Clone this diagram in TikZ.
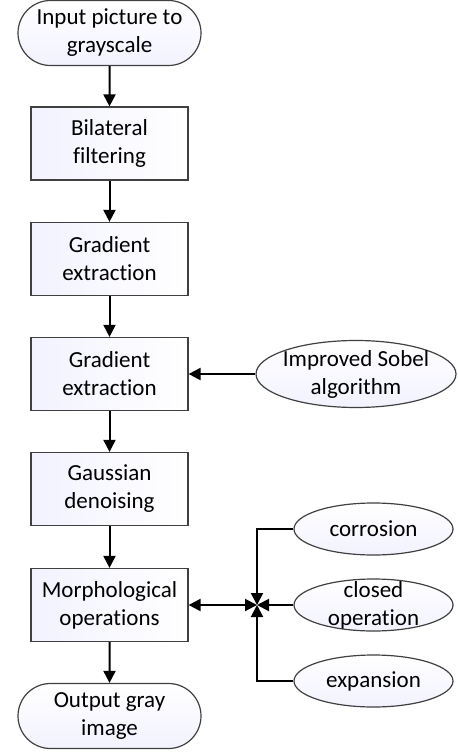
\documentclass[tikz,border=0pt]{standalone}
\usepackage{fontspec}
\setmainfont{Carlito}[Ligatures=NoCommon]
\usetikzlibrary{shapes, arrows.meta, positioning, calc}

\begin{document}
\begin{tikzpicture}[
        x=0.5pt, y=-0.5pt,
        font=\fontsize{11.5}{14}\selectfont,
        term/.style={rounded rectangle, draw=black!75, line width=0.6pt, top color=white, bottom color=blue!5, minimum width=93.5pt, minimum height=32.5pt, align=center, inner sep=1pt},
        proc/.style={rectangle, draw=black!75, line width=0.6pt, left color=blue!5, right color=white, minimum width=78.5pt, minimum height=36.5pt, align=center, inner sep=1pt},
        oval/.style={ellipse, draw=black!75, line width=0.6pt, top color=white, bottom color=blue!5, minimum width=79.5pt, minimum height=26pt, inner sep=0pt},
        ovaltext/.style={align=center, inner sep=0pt},
        flow/.style={-{Triangle[length=6pt, width=6pt]}, line width=1pt},
        both/.style={{Triangle[length=6pt, width=6pt]}-{Triangle[length=6pt, width=6pt]}, line width=1pt}
    ]
        \useasboundingbox (0, 0) rectangle (458, 753);
        % main chain
        \node[term] (start) at (109.5, 33) {Input picture to\\grayscale};
        \node[proc] (bilat) at (109.5, 143.5) {Bilateral\\filtering};
        \node[proc] (grad1) at (109.5, 259) {Gradient\\extraction};
        \node[proc] (grad2) at (109.5, 374) {Gradient\\extraction};
        \node[proc] (gauss) at (109.5, 489) {Gaussian\\denoising};
        \node[proc] (morph) at (109.5, 605) {Morphological\\operations};
        \node[term] (stop) at (109.5, 716) {Output gray\\image};
        % side inputs
        \node[oval, minimum width=100pt, minimum height=33.5pt, label={[ovaltext]center:Improved Sobel\\algorithm}] (sobel) at (356, 374) {};
        \node[oval, label={[ovaltext]center:corrosion}] (corr) at (373.5, 529) {};
        \node[oval, label={[ovaltext]center:closed\\operation}] (closed) at (373.5, 605) {};
        \node[oval, label={[ovaltext]center:expansion}] (expan) at (373.5, 681) {};
        \coordinate (hub) at (257, 605);
        \draw[flow] (start) -- (bilat);
        \draw[flow] (bilat) -- (grad1);
        \draw[flow] (grad1) -- (grad2);
        \draw[flow] (grad2) -- (gauss);
        \draw[flow] (gauss) -- (morph);
        \draw[flow] (morph) -- (stop);
        \draw[flow] (sobel) -- (grad2);
        \draw[both] (morph) -- (hub);
        \draw[flow] (closed) -- (hub);
        \draw[flow] (corr) -| (hub);
        \draw[flow] (expan) -| (hub);
    \end{tikzpicture}
\end{document}
